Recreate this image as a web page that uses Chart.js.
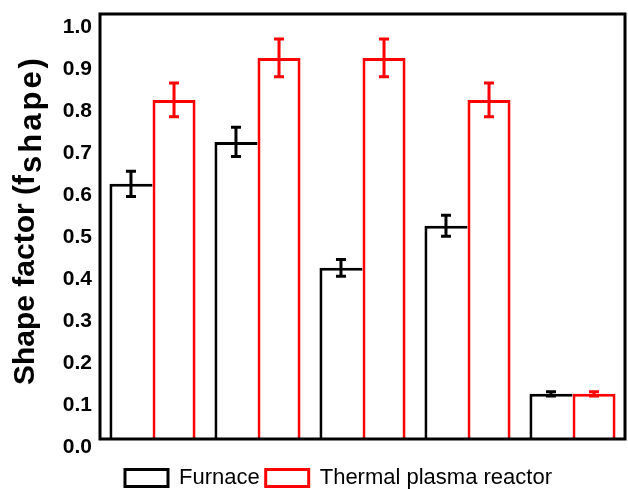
<!DOCTYPE html>
<html lang="en">
<head>
    <meta charset="UTF-8">
    <title>Shape factor</title>
    <script src="https://cdn.jsdelivr.net/npm/chart.js@4.4.1/dist/chart.umd.min.js"></script>
    <style>
        body {
            margin: 0;
            padding: 0;
            background: #ffffff;
        }
        #chart {
            display: block;
        }
    </style>
</head>
<body>
    <canvas id="chart" width="628" height="489"></canvas>

    <script>
        // chart data
        const samples = ['S1', 'S2', 'S3', 'S4', 'S5'];
        const furnace = [0.62, 0.72, 0.42, 0.52, 0.12];
        const furnaceErr = [0.03, 0.035, 0.02, 0.025, 0.005];
        const plasma = [0.82, 0.92, 0.92, 0.82, 0.12];
        const plasmaErr = [0.04, 0.045, 0.045, 0.04, 0.005];
        const yTicks = [0, 0.1, 0.2, 0.3, 0.4, 0.5, 0.6, 0.7, 0.8, 0.9, 1.0];

        const FONT = '"Liberation Sans", Arial, sans-serif';

        // error bars drawn from the bar elements and the y scale
        const errorBars = {
            id: 'errorBars',
            afterDatasetsDraw(chart) {
                const ctx = chart.ctx;
                const y = chart.scales.y;
                chart.data.datasets.forEach((ds, i) => {
                    const meta = chart.getDatasetMeta(i);
                    ctx.save();
                    ctx.strokeStyle = ds.borderColor;
                    ctx.lineWidth = 3;
                    meta.data.forEach((bar, j) => {
                        const v = ds.data[j], e = ds.errors[j];
                        const top = y.getPixelForValue(v + e);
                        const bot = y.getPixelForValue(v - e);
                        ctx.beginPath();
                        ctx.moveTo(bar.x, top);
                        ctx.lineTo(bar.x, bot);
                        ctx.moveTo(bar.x - 5, top);
                        ctx.lineTo(bar.x + 5, top);
                        ctx.moveTo(bar.x - 5, bot);
                        ctx.lineTo(bar.x + 5, bot);
                        ctx.stroke();
                    });
                    ctx.restore();
                });
            }
        };

        // frame round the plot and the y title with its subscript
        const frame = {
            id: 'frame',
            afterDraw(chart) {
                const ctx = chart.ctx;
                const a = chart.chartArea;
                ctx.save();
                ctx.strokeStyle = '#000';
                ctx.lineWidth = 3;
                ctx.strokeRect(a.left, a.top, a.right - a.left, a.bottom - a.top);

                ctx.translate(34, 385);
                ctx.rotate(-Math.PI / 2);
                ctx.fillStyle = '#000';
                ctx.textAlign = 'left';
                ctx.textBaseline = 'alphabetic';
                ctx.font = 'bold 30px ' + FONT;
                const main = 'Shape factor (f';
                ctx.fillText(main, 0, 0);
                const w = ctx.measureText(main).width;
                ctx.font = 'bold 31px ' + FONT;
                ctx.letterSpacing = '3px';
                ctx.fillText('shape)', w + 2, 7);
                ctx.restore();
            }
        };

        new Chart(document.getElementById('chart'), {
            type: 'bar',
            data: {
                labels: samples,
                datasets: [{
                    label: 'Furnace',
                    data: furnace,
                    errors: furnaceErr,
                    backgroundColor: '#ffffff',
                    borderColor: '#000000',
                    borderWidth: {top: 3, left: 3, right: 0, bottom: 0}
                }, {
                    label: 'Thermal plasma reactor',
                    data: plasma,
                    errors: plasmaErr,
                    backgroundColor: '#ffffff',
                    borderColor: '#ff0000',
                    borderWidth: {top: 3, left: 3, right: 3, bottom: 0}
                }]
            },
            options: {
                responsive: false,
                animation: false,
                datasets: {
                    bar: {
                        categoryPercentage: 0.82,
                        barPercentage: 1.0
                    }
                },
                layout: {
                    padding: {left: 52, right: 3, top: 14, bottom: -10}
                },
                plugins: {
                    tooltip: {enabled: false},
                    legend: {
                        position: 'bottom',
                        labels: {
                            boxWidth: 43,
                            boxHeight: 17,
                            padding: 6,
                            color: '#000',
                            font: {family: FONT, size: 22},
                            generateLabels(chart) {
                                const items = Chart.defaults.plugins.legend.labels.generateLabels(chart);
                                items.forEach(it => {
                                    it.lineWidth = 3;
                                    it.fillStyle = '#ffffff';
                                });
                                return items;
                            }
                        }
                    }
                },
                scales: {
                    x: {
                        grid: {display: false, drawTicks: false},
                        border: {display: false},
                        ticks: {display: false},
                        afterFit(scale) {
                            scale.height = 22;
                        }
                    },
                    y: {
                        min: 0.0125,
                        max: 1.0245,
                        grid: {display: false, drawTicks: false},
                        border: {display: false},
                        ticks: {
                            padding: 8,
                            labelOffset: 3,
                            color: '#000',
                            font: {family: FONT, size: 21, weight: 'bold'},
                            callback: v => v.toFixed(1)
                        },
                        afterBuildTicks(scale) {
                            scale.ticks = yTicks.map(v => ({value: v}));
                        },
                        afterFit(scale) {
                            scale.width = 48;
                            scale.paddingTop = 0;
                            scale.paddingBottom = 0;
                        }
                    }
                }
            },
            plugins: [errorBars, frame]
        });
    </script>
</body>
</html>
